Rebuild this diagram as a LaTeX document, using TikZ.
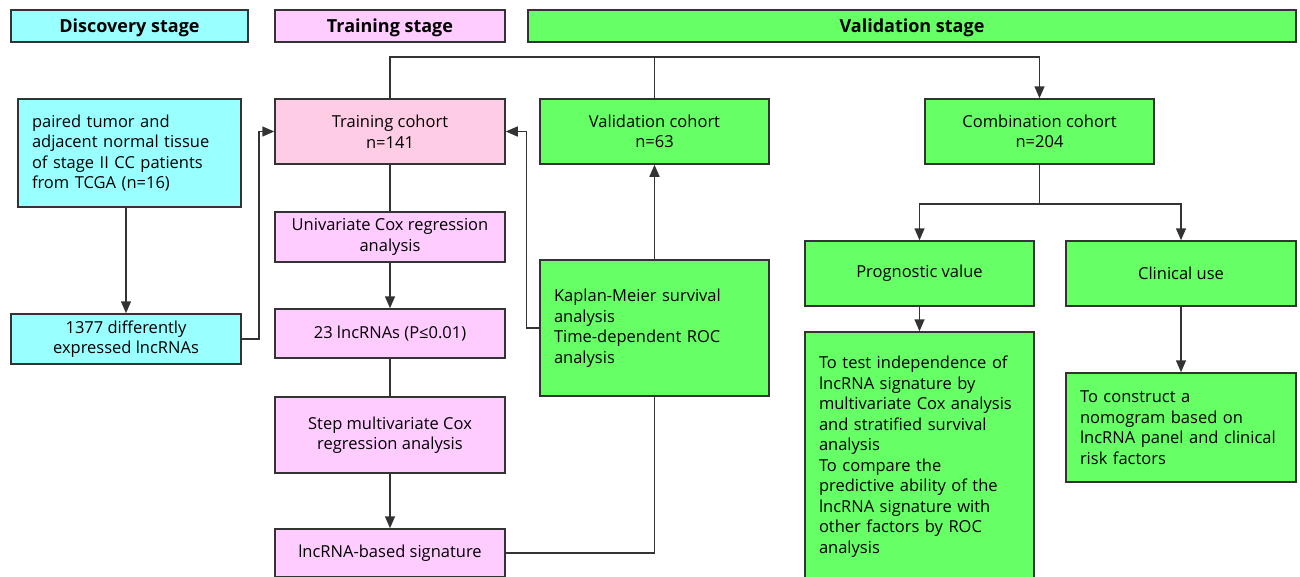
\documentclass[tikz,border=0pt]{standalone}
\usepackage{fontspec}
\setmainfont{Open Sans}
\usepackage{tikz}
\usetikzlibrary{arrows.meta,positioning}
\definecolor{edge}{HTML}{333333}
\definecolor{discov}{HTML}{99FFFF}
\definecolor{trainpink}{HTML}{FFCCFF}
\definecolor{cohortpink}{HTML}{FFCCE6}
\definecolor{validgreen}{HTML}{66FF66}

\begin{document}
\begin{tikzpicture}
        [x=1pt,y=-1pt,
          box/.style={draw=edge,line width=1.5pt,inner sep=0pt,align=center,
            font=\fontsize{16.5}{20.5}\selectfont},
          leftbox/.style={box,inner xsep=14pt,align=left},
          head/.style={box,minimum height=32pt,text depth=0pt,font=\fontsize{18}{20}\selectfont\bfseries},
          link/.style={draw=edge,line width=1.5pt},
          arr/.style={link,-{Triangle[length=12pt,width=10pt]}}]
        \clip (0,0) rectangle (1300,576);
        \node[head,fill=discov,minimum width=237pt] (discH) at (129.5,26) {Discovery stage};
        \node[head,fill=trainpink,minimum width=230pt] (trainH) at (390,26) {Training stage};
        \node[head,fill=validgreen,minimum width=768pt] (validH) at (912,26) {Validation stage};

        \node[leftbox,fill=discov,text width=195pt,minimum height=108pt] (tissue) at (129.5,153)
          {paired tumor and\\adjacent normal tissue\\of stage II CC patients\\from TCGA (n=16)};
        \node[box,fill=discov,minimum width=230pt,minimum height=50pt] (degs) at (126,339)
          {1377 differently\\expressed lncRNAs};

        \node[box,fill=cohortpink,minimum width=230pt,minimum height=65pt] (train) at (390,131.5)
          {Training cohort\\n=141};
        \node[box,fill=trainpink,minimum width=230pt,minimum height=50pt] (unicox) at (390,237)
          {Univariate Cox regression\\analysis};
        \node[box,fill=trainpink,minimum width=230pt,minimum height=49pt] (cand) at (390,333.5)
          {23 lncRNAs (P≤0.01)};
        \node[box,fill=trainpink,minimum width=230pt,minimum height=76pt] (multicox) at (390,435)
          {Step multivariate Cox\\regression analysis};
        \node[box,fill=trainpink,minimum width=230pt,minimum height=48pt] (sig) at (390,553)
          {lncRNA-based signature};

        \node[box,fill=validgreen,minimum width=229pt,minimum height=65pt] (valid) at (654.5,131.5)
          {Validation cohort\\n=63};
        \node[leftbox,fill=validgreen,text width=201pt,minimum height=136pt] (km) at (654.5,328)
          {Kaplan-Meier survival\\analysis\\Time-dependent ROC\\analysis};

        \node[box,fill=validgreen,minimum width=229pt,minimum height=65pt] (comb) at (1039.5,131.5)
          {Combination cohort\\n=204};
        \node[box,fill=validgreen,minimum width=229pt,minimum height=65pt] (prog) at (919.5,273.5)
          {Prognostic value};
        \node[box,fill=validgreen,minimum width=230pt,minimum height=65pt] (clin) at (1181,273.5)
          {Clinical use};
        \node[leftbox,fill=validgreen,text width=201pt,minimum height=249pt] (test) at (919.5,456.5)
          {To test independence of\\lncRNA signature by\\multivariate Cox analysis\\and stratified survival\\analysis\\To compare the\\predictive ability of the\\lncRNA signature with\\other factors by ROC\\analysis};
        \node[leftbox,fill=validgreen,text width=202pt,minimum height=109pt] (nomo) at (1181,427.5)
          {To construct a\\nomogram based on\\lncRNA panel and clinical\\risk factors};

        \coordinate (top) at (654.5,57);
        \draw[arr] (tissue.south -| degs.north) -- (degs.north);
        \draw[arr] (degs.east) -- ++(17,0) |- (train.west);
        \draw[link] (train) -- (unicox);
        \draw[arr] (unicox) -- (cand);
        \draw[link] (cand) -- (multicox);
        \draw[arr] (multicox) -- (sig);
        \draw[link] (sig.east) -| (km.south);
        \draw[arr] (km) -- (valid);
        \draw[arr] (km.west) -- ++(-13,0) |- (train.east);
        \draw[arr] (train.north) |- (top) -| (comb.north);
        \draw[link] (valid.north) -- (top);
        \draw[link] (comb.south) -- ++(0,39) coordinate (split);
        \draw[arr] (split) -| (prog.north);
        \draw[arr] (split) -| (clin.north);
        \draw[arr] (prog) -- (test);
        \draw[arr] (clin) -- (nomo);

      \end{tikzpicture}
\end{document}
